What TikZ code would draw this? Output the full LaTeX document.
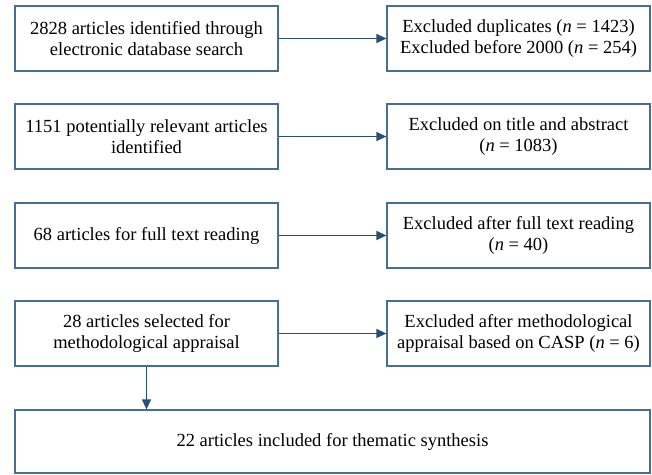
\documentclass[tikz,border=0pt]{standalone}
\usepackage{fontspec}
\setmainfont{Liberation Serif}
\usetikzlibrary{arrows.meta}
\definecolor{boxline}{RGB}{72,110,150}
\definecolor{arrowcol}{RGB}{38,78,122}
\tikzset{
  flowbox/.style={draw=boxline, line width=1.2pt, rectangle, align=center,
    minimum width=263pt, minimum height=65pt, inner sep=2pt,
    font=\fontsize{18.5pt}{21pt}\selectfont},
  flowarrow/.style={draw=arrowcol, line width=1.3pt, -{Triangle[length=10pt,width=9pt]}}
}
\begin{document}
\begin{tikzpicture}[x=1pt,y=-1pt]
\useasboundingbox (0,0) rectangle (652,474);
\node[flowbox] (l1) at (146.5,38.5) {2828 articles identified through\\electronic database search};
\node[flowbox] (r1) at (518.5,38.5) {Excluded duplicates (\textit{n} = 1423)\\Excluded before 2000 (\textit{n} = 254)};
\node[flowbox] (l2) at (146.5,136.5) {1151 potentially relevant articles\\identified};
\node[flowbox] (r2) at (518.5,136.5) {Excluded on title and abstract\\(\textit{n} = 1083)};
\node[flowbox] (l3) at (146.5,235.5) {68 articles for full text reading};
\node[flowbox] (r3) at (518.5,235.5) {Excluded after full text reading\\(\textit{n} = 40)};
\node[flowbox] (l4) at (146.5,333.5) {28 articles selected for\\methodological appraisal};
\node[flowbox] (r4) at (518.5,333.5) {Excluded after methodological\\appraisal based on CASP (\textit{n} = 6)};
\node[flowbox, minimum width=635pt, minimum height=63pt] (fin) at (332.5,441.5) {22 articles included for thematic synthesis};
\draw[flowarrow] (l1) -- (r1);
\draw[flowarrow] (l2) -- (r2);
\draw[flowarrow] (l3) -- (r3);
\draw[flowarrow] (l4) -- (r4);
\draw[flowarrow] (l4.south) -- (l4.south |- fin.north);
\end{tikzpicture}
\end{document}
